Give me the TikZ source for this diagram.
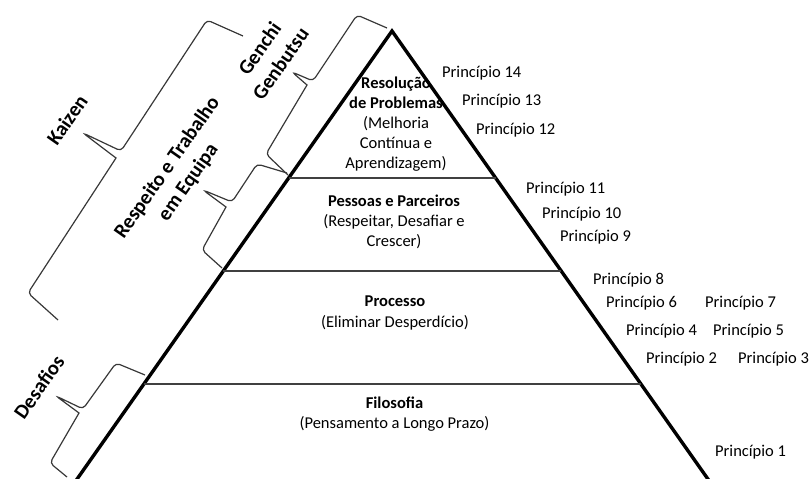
\documentclass[tikz,border=0pt]{standalone}
\usepackage{fontspec}
\setmainfont{Carlito}
\usetikzlibrary{calc}
\begin{document}
\begin{tikzpicture}[x=1pt,y=-1pt,
  edge/.style={line width=3.4pt, line join=miter, draw=black},
  tier/.style={line width=1.6pt, draw=black!75},
  bracket/.style={line width=1.2pt, draw=black!78, rounded corners=4pt},
  body/.style={font=\fontsize{16.5}{20}\selectfont, inner sep=0pt, anchor=base, text=black},
  title/.style={body, font=\bfseries\fontsize{16.5}{20}\selectfont},
  pr/.style={font=\fontsize{16.5}{20}\selectfont, inner sep=0pt, anchor=base west, text=black},
  side/.style={font=\bfseries\fontsize{20.5}{25.5}\selectfont, align=center, rotate=55, inner sep=0pt, text=black},
]
\useasboundingbox (0,0) rectangle (809,479);

% pyramid outline (open at the bottom)
\coordinate (apex) at (392,31);
\coordinate (bl) at (75,482);
\coordinate (br) at (710,482);
\draw[edge] (bl) -- (apex) -- (br);

% tier separators
\coordinate (t1l) at ($(apex)!0.326!(bl)$);
\coordinate (t1r) at ($(apex)!0.326!(br)$);
\coordinate (t2l) at ($(apex)!0.532!(bl)$);
\coordinate (t2r) at ($(apex)!0.532!(br)$);
\coordinate (t3l) at ($(apex)!0.783!(bl)$);
\coordinate (t3r) at ($(apex)!0.783!(br)$);
\draw[tier] (t1l) -- (t1r);
\draw[tier] (t2l) -- (t2r);
\draw[tier] (t3l) -- (t3r);

% tier texts
\node[title] (r1) at (396,88) {Resolução};
\node[title] (r2) at (396,108) {de Problemas};
\node[body]  (r3) at (396,128) {(Melhoria};
\node[body]  (r4) at (396,148) {Contínua e};
\node[body]  (r5) at (396,168) {Aprendizagem)};

\node[title] (p1) at (394,206) {Pessoas e Parceiros};
\node[body]  (p2) at (394,226) {(Respeitar, Desafiar e};
\node[body]  (p3) at (394,246) {Crescer)};

\node[title] (c1) at (395,306) {Processo};
\node[body]  (c2) at (395,327) {(Eliminar Desperdício)};

\node[title] (f1) at (394.5,408) {Filosofia};
\node[body]  (f2) at (394.5,428) {(Pensamento a Longo Prazo)};

% principles
\node[pr] (pr14) at (442,77)  {Princípio 14};
\node[pr] (pr13) at (462,105) {Princípio 13};
\node[pr] (pr12) at (476,134) {Princípio 12};
\node[pr] (pr11) at (526,193) {Princípio 11};
\node[pr] (pr10) at (542,218) {Princípio 10};
\node[pr] (pr9)  at (560,241) {Princípio 9};
\node[pr] (pr8)  at (593,284) {Princípio 8};
\node[pr] (pr6)  at (606,307) {Princípio 6};
\node[pr] (pr7)  at (705,307) {Princípio 7};
\node[pr] (pr4)  at (626,335) {Princípio 4};
\node[pr] (pr5)  at (713,335) {Princípio 5};
\node[pr] (pr2)  at (646,363) {Princípio 2};
\node[pr] (pr3)  at (738,363) {Princípio 3};
\node[pr] (pr1)  at (715,456) {Princípio 1};

% braces along the left side
\draw[bracket] (243,36) -- (207,20) -- (121,151) -- (83,133) [sharp corners] -- (116,158) [rounded corners=4pt] -- (28,293) -- (58,320);
\draw[bracket] (387,28) -- (357,15) -- (313,81) -- (292,72) [sharp corners] -- (307,85) [rounded corners=4pt] -- (266,154) -- (288,175);
\draw[bracket] (287,173) -- (257,164) -- (232,202) -- (203,190) [sharp corners] -- (226,207) [rounded corners=4pt] -- (202,250) -- (222,268);
\draw[bracket] (145,375) -- (116,363) -- (83,409) -- (56,396) [sharp corners] -- (79,413) [rounded corners=4pt] -- (50,463) -- (67,477);

% brace labels
\node[side] (kaizen) at (67,120) {Kaizen};
\node[side] (genchi) at (270,56) {Genchi\\Genbutsu};
\node[side] (respeito) at (178,175) {Respeito e Trabalho\\em Equipa};
\node[side] (desafios) at (39,387) {Desafios};
\end{tikzpicture}
\end{document}
